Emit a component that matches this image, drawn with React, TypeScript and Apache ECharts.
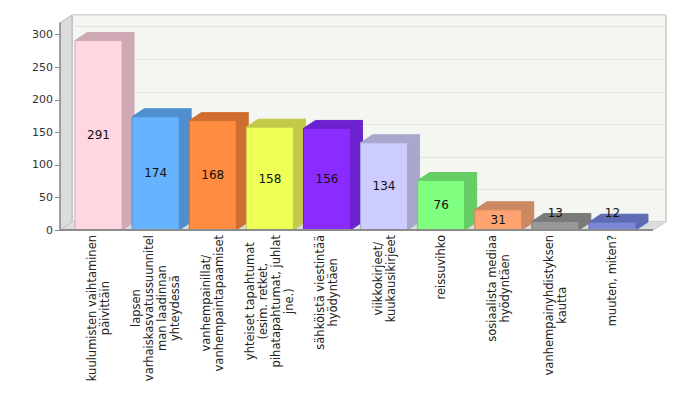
import React, { useEffect, useRef } from 'react';
import * as echarts from 'echarts';

const categories = [
  'kuulumisten vaihtaminen\npäivittäin',
  'lapsen\nvarhaiskasvatussuunnitel\nman laadinnan\nyhteydessä',
  'vanhempainillat/\nvanhempaintapaamiset',
  'yhteiset tapahtumat\n(esim. retket,\npihatapahtumat, juhlat\njne.)',
  'sähköistä viestintää\nhyödyntäen',
  'viikkokirjeet/\nkuukausikirjeet',
  'reissuvihko',
  'sosiaalista mediaa\nhyödyntäen',
  'vanhempainyhdistyksen\nkautta',
  'muuten, miten?',
];
const values = [291, 174, 168, 158, 156, 134, 76, 31, 13, 12];
const yTicks = [0, 50, 100, 150, 200, 250, 300];
const frontColors = ['#ffd7e0', '#66b3ff', '#ff8c40', '#eeff55', '#8a2cff', '#ccccff', '#80ff80', '#ffa370', '#999999', '#7b88d6'];
const sideColors = ['#cfa9b3', '#4f8fd0', '#d06e30', '#c4c94a', '#6c22d0', '#a8a8cc', '#66cc66', '#cc8860', '#7a7a7a', '#5f6bb4'];

const FONT = '"DejaVu Sans", Verdana, sans-serif';

export default function App() {
  const ref = useRef<HTMLDivElement>(null);
  useEffect(() => {
    const chart = echarts.init(ref.current!, null, { renderer: 'svg' });
    const DX = 12;
    const DY = -8;
    const yMax = 318;
    chart.setOption({
      animation: false,
      backgroundColor: '#ffffff',
      grid: [
        { left: 70, right: 39, top: 23, bottom: 170 },
        {
          left: 72, right: 14, top: 15, bottom: 178, show: true,
          backgroundColor: '#f4f6f2', borderColor: '#b0b0b0', borderWidth: 1,
        },
      ],
      xAxis: [
        {
          gridIndex: 0, type: 'category', data: categories,
          axisLine: { show: false }, axisTick: { show: false },
          axisLabel: {
            interval: 0, rotate: 90, margin: 5,
            fontSize: 11.5, fontFamily: FONT, color: '#222',
            formatter: (v: string) => v.split('\n').map((l) => `{c|${l}}`).join('\n'),
            rich: { c: { align: 'center', fontSize: 11.5, fontFamily: FONT, color: '#222', lineHeight: 13 } },
          },
        },
        { gridIndex: 1, type: 'category', data: categories, show: false },
      ],
      yAxis: [
        {
          gridIndex: 0, type: 'value', min: 0, max: yMax, interval: 50, offset: 10, z: 5,
          axisLine: { show: true, lineStyle: { color: '#8c8c8c', width: 1.5 } },
          axisTick: { show: true, length: 5, lineStyle: { color: '#8c8c8c' } },
          axisLabel: {
            margin: 7, fontSize: 11, fontFamily: FONT, color: '#333', showMaxLabel: false,
            formatter: (v: number) => (yTicks.includes(v) ? String(v) : ''),
          },
          splitLine: { show: false },
        },
        {
          gridIndex: 1, type: 'value', min: 0, max: yMax, interval: 50,
          axisLine: { show: false }, axisTick: { show: false }, axisLabel: { show: false },
          splitLine: { show: true, lineStyle: { color: '#e2e4e0', width: 1 } },
        },
      ],
      graphic: [
        {
          type: 'polygon', z: 0,
          shape: { points: [[60, 23], [72, 15], [72, 222], [60, 230]] },
          style: { fill: '#dcdcdc', stroke: '#b5b5b5', lineWidth: 1 },
        },
        {
          type: 'polygon', z: 0,
          shape: { points: [[60, 230], [72, 222], [666, 222], [653, 230]] },
          style: { fill: '#dcdcdc', stroke: '#c8c8c8', lineWidth: 1 },
        },
        {
          type: 'line', z: 10,
          shape: { x1: 60, y1: 230, x2: 653, y2: 230 },
          style: { stroke: '#8c8c8c', lineWidth: 2 },
        },
      ],
      series: [
        {
          type: 'custom',
          xAxisIndex: 0,
          yAxisIndex: 0,
          data: values.map((v, i) => [i, v]),
          encode: { x: 0, y: 1 },
          renderItem: (params: any, api: any) => {
            const idx = api.value(0);
            const val = api.value(1);
            const top = api.coord([idx, val]);
            const base = api.coord([idx, 0]);
            const bw = api.size([1, 0])[0] * 0.823;
            const x0 = top[0] - bw / 2;
            const x1 = top[0] + bw / 2;
            const yt = top[1];
            const yb = base[1];
            const fc = frontColors[idx];
            const sc = sideColors[idx];
            const h = yb - yt;
            const ly = h < 16 ? yt + DY - 1 : (yt + yb) / 2;
            return {
              type: 'group',
              children: [
                {
                  type: 'polygon',
                  shape: { points: [[x1, yt], [x1 + DX, yt + DY], [x1 + DX, yb + DY], [x1, yb]] },
                  style: { fill: sc, stroke: sc, lineWidth: 1 },
                },
                {
                  type: 'polygon',
                  shape: { points: [[x0, yt], [x0 + DX, yt + DY], [x1 + DX, yt + DY], [x1, yt]] },
                  style: { fill: sc, stroke: sc, lineWidth: 1 },
                },
                {
                  type: 'rect',
                  shape: { x: x0, y: yt, width: bw, height: h },
                  style: { fill: fc, stroke: sc, lineWidth: 1 },
                },
                {
                  type: 'text',
                  x: (x0 + x1) / 2,
                  y: ly,
                  style: {
                    text: String(val), align: 'center', verticalAlign: 'middle',
                    fontSize: 12, fontFamily: FONT, fill: '#111',
                  },
                },
              ],
            };
          },
        },
      ],
    });
    return () => chart.dispose();
  }, []);
  return <div ref={ref} style={{ position: 'fixed', left: 0, top: 0, width: 680, height: 400 }} />;
}
